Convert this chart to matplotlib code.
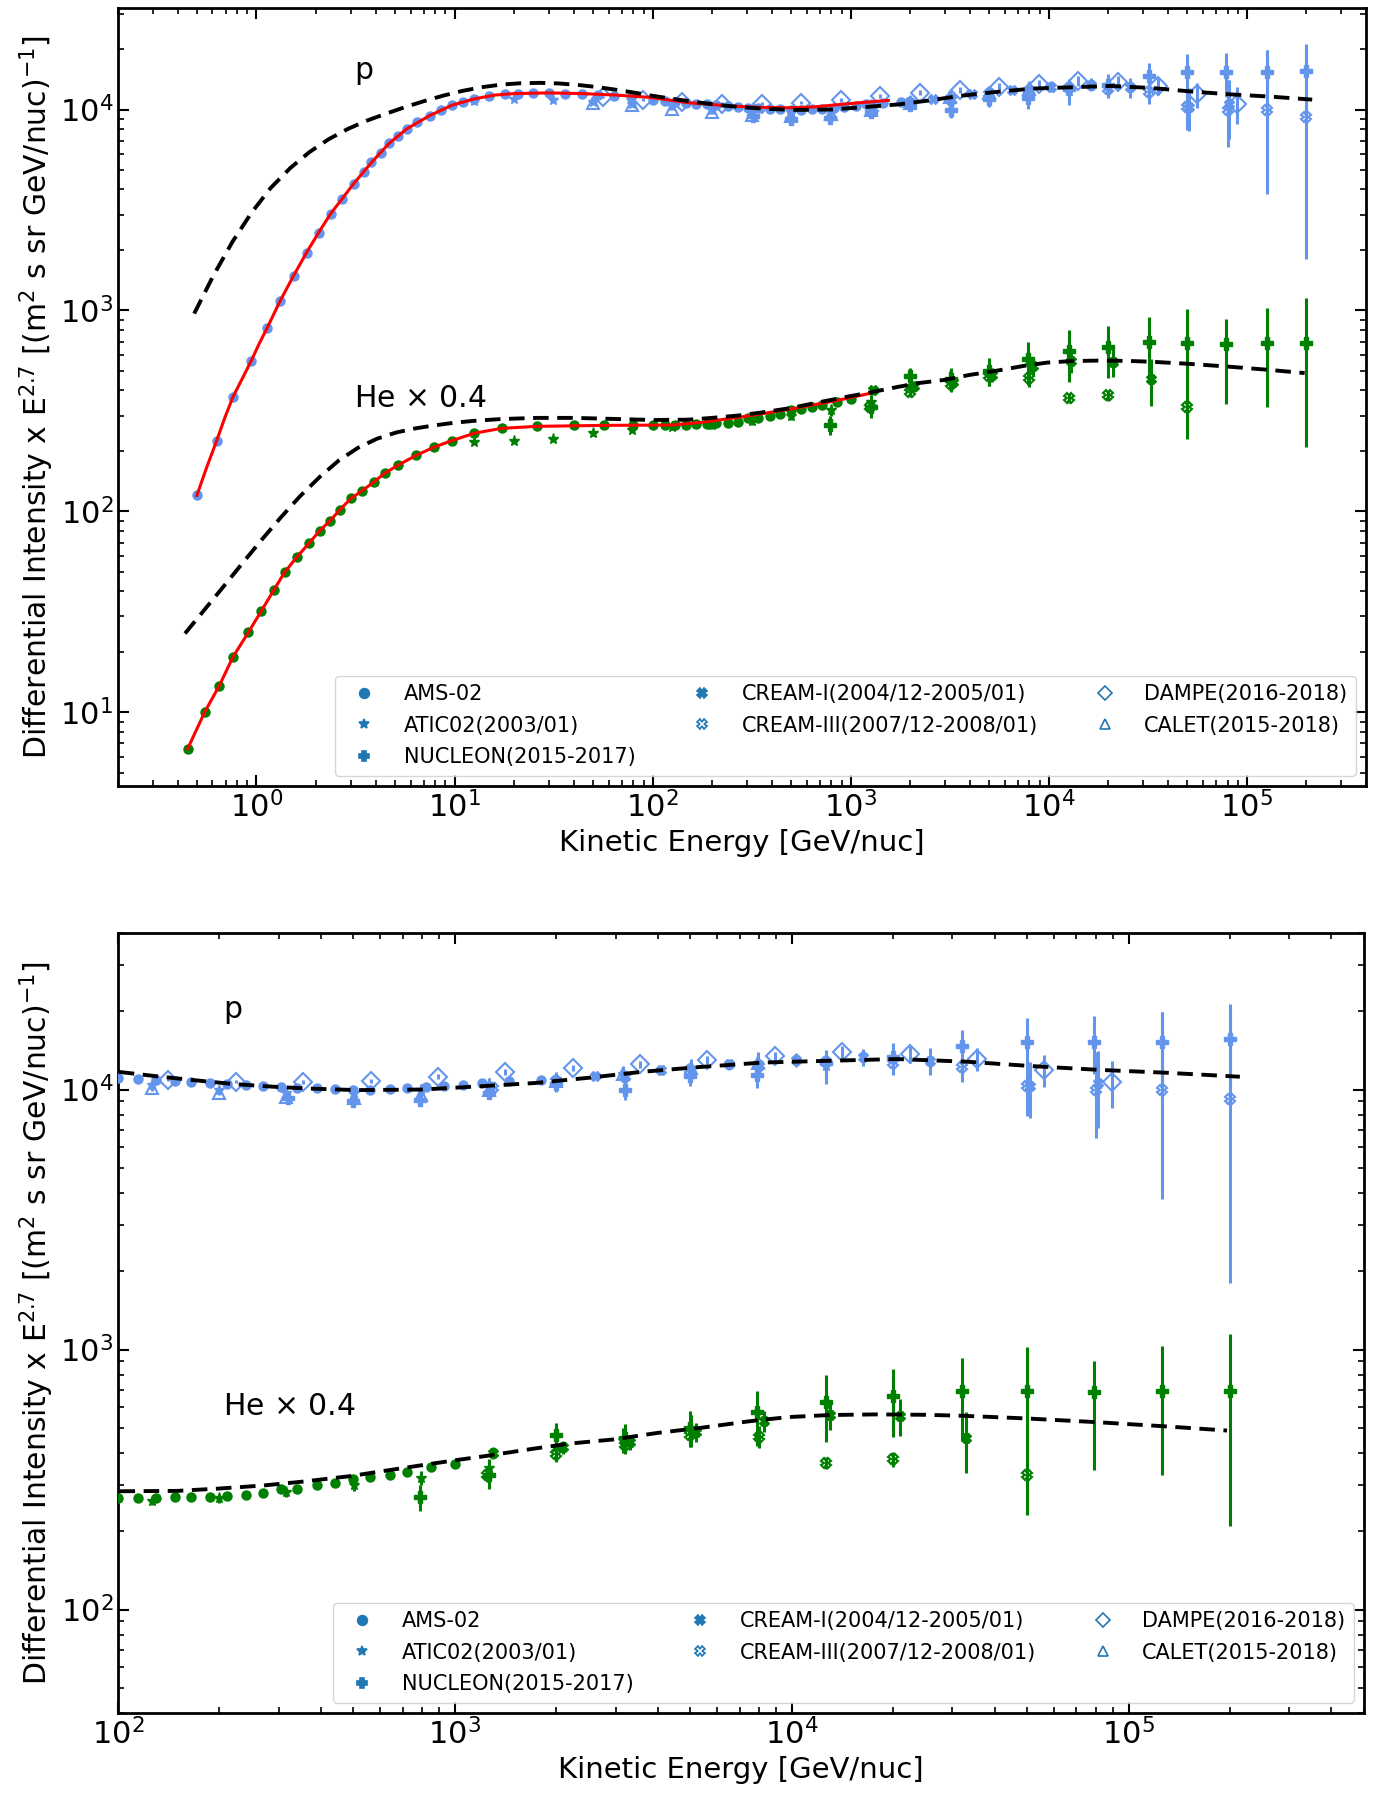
import numpy as np
import matplotlib
matplotlib.use('Agg')
import matplotlib.pyplot as plt
from matplotlib.lines import Line2D

# ---------------- proton data (E in GeV/nuc, flux x E^2.7) ----------------
p_ams_E = [0.50, 0.63, 0.76, 0.94, 1.13, 1.32, 1.54, 1.79, 2.06, 2.37, 2.71, 3.10, 3.50, 3.81,
           4.25, 4.67, 5.2, 5.77, 6.5, 7.5, 8.5, 9.7, 11.0, 12.6, 15.0, 18.0, 21.0, 25.0, 30.0,
           36.0, 44.0, 53.0, 64.0, 78.0, 100, 115, 130, 148, 165, 188, 210, 240, 270, 305,
           340, 390, 440, 500, 560, 640, 720, 820, 930, 1060, 1200, 1450, 1800]
p_ams_v = [120, 225, 370, 560, 815, 1120, 1490, 1940, 2440, 3030, 3600, 4280, 4900, 5450,
           6100, 6780, 7400, 8040, 8700, 9330, 9950, 10500, 10900, 11300, 11700, 11900, 12000,
           12050, 12050, 12000, 11950, 11850, 11700, 11500, 11100, 11000, 10900, 10800, 10700,
           10600, 10500, 10400, 10300, 10200, 10150, 10100, 10050, 10000, 10000, 10050, 10100,
           10200, 10300, 10450, 10600, 10750, 10900]

p_atic_E = [12.6, 20, 31.6, 50, 79, 126, 200, 316, 501, 794, 1260, 2000, 3160, 5010, 7940, 12600]
p_atic_v = [11000, 11300, 11200, 10900, 10700, 10400, 10000, 9700, 9700, 10000, 10500, 11000,
            11500, 12100, 12600, 12300]
p_atic_err = [300, 300, 300, 300, 300, 300, 300, 350, 400, 500, 600, 700, 800, 1000, 1300, 1800]

p_nuc_E = [320, 500, 790, 1260, 2000, 3200, 5000, 7900, 12600, 20000, 32000, 50000, 79000,
           126000, 200000]
p_nuc_v = [9300, 9000, 9100, 9700, 10500, 10000, 11300, 11400, 12700, 13300, 14700, 15300,
           15300, 15300, 15600]
p_nuc_err = [300, 300, 400, 500, 700, 900, 1000, 1300, 1500, 1800, 2300, 3500, 3800, 4500, 5700]

p_cream1_E = [2600, 4100, 6500, 10300, 16300, 25800, 51000, 81000]
p_cream1_v = [11300, 11900, 12500, 13000, 13300, 12900, 10300, 10600]
p_cream1_err = [400, 500, 600, 800, 1000, 1500, 2500, 3500]

p_cream3_E = [1300, 2000, 3200, 5000, 8000, 12600, 20000, 32000, 50000, 80000, 126000, 200000]
p_cream3_v = [10100, 10800, 11200, 11900, 12300, 12800, 12600, 12200, 10300, 10000, 10000, 9200]
p_cream3_elo = [300, 400, 500, 600, 800, 1000, 1200, 1500, 2400, 3500, 6200, 7400]
p_cream3_ehi = [300, 400, 500, 600, 800, 1000, 1200, 1500, 2600, 4000, 9800, 11000]

p_dampe_E = [56, 89, 141, 224, 355, 562, 891, 1410, 2240, 3550, 5620, 8910, 14100, 22400,
             35500, 56200, 89100]
p_dampe_v = [11500, 11200, 10900, 10700, 10700, 10800, 11200, 11700, 12100, 12500, 13000,
             13400, 13900, 13700, 13100, 11900, 10700]
p_dampe_err = [150, 150, 150, 150, 200, 200, 250, 300, 350, 400, 500, 600, 800, 1000, 1300,
               1700, 2200]

p_calet_E = [50, 79, 126, 200, 316, 501, 794, 1260, 2000, 3160, 5010, 7940]
p_calet_v = [10800, 10500, 10100, 9700, 9400, 9300, 9500, 10000, 10800, 11500, 12100, 12700]
p_calet_err = [200, 200, 200, 200, 200, 250, 300, 350, 450, 550, 700, 900]

# ---------------- helium data (x 0.4) ----------------
he_ams_E = [0.45, 0.547, 0.65, 0.76, 0.91, 1.06, 1.22, 1.39, 1.6, 1.84, 2.09, 2.36, 2.64, 3.0,
            3.43, 3.91, 4.45, 5.2, 6.4, 7.9, 9.7, 12.6, 17.3, 26, 40, 57, 80, 100, 115, 130,
            148, 165, 188, 210, 240, 270, 305, 340, 390, 440, 500, 560, 640, 720, 850, 1000]
he_ams_v = [6.6, 10, 13.6, 18.8, 25, 32, 40.4, 49.9, 59.3, 69.3, 80.3, 90, 102, 116, 127, 140,
            155, 170, 190, 209, 225, 245, 259, 265, 268, 268, 268, 268, 268, 269, 270, 271,
            272, 274, 276, 280, 290, 292, 300, 306, 318, 322, 330, 338, 352, 362]

he_atic_E = [12.6, 20, 31.6, 50, 79, 126, 200, 316, 501, 794, 1260, 2000, 3160, 5010]
he_atic_v = [221, 225, 230, 245, 255, 262, 268, 282, 300, 320, 350, 420, 450, 490]
he_atic_err = [5, 5, 6, 7, 8, 9, 10, 12, 15, 20, 30, 40, 50, 70]

he_nuc_E = [790, 1260, 2000, 3200, 5000, 7900, 12600, 20000, 32000, 50000, 79000, 126000, 200000]
he_nuc_v = [270, 330, 470, 455, 500, 575, 630, 660, 695, 690, 684, 690, 690]
he_nuc_elo = [30, 40, 50, 60, 80, 150, 190, 200, 250, 460, 340, 360, 480]
he_nuc_ehi = [30, 40, 50, 60, 80, 120, 170, 180, 230, 330, 220, 340, 460]

he_cream1_E = [1300, 2100, 3300, 5200, 8300, 13000, 21000, 33000]
he_cream1_v = [400, 420, 440, 480, 530, 560, 555, 455]
he_cream1_err = [20, 25, 30, 40, 50, 70, 90, 120]

he_cream3_E = [1250, 2000, 3200, 5000, 8000, 12600, 20000, 50000]
he_cream3_v = [330, 395, 430, 470, 462, 367, 378, 330]
he_cream3_err = [20, 25, 30, 40, 45, 20, 25, 40]

# ---------------- model curves ----------------
p_fit_E = [0.5, 0.56, 0.63, 0.69, 0.76, 0.85, 0.94, 1.03, 1.13, 1.32, 1.54, 1.79, 2.06, 2.37,
           2.71, 3.1, 3.81, 4.67, 5.77, 7.5, 9.7, 12.6, 16, 20, 30, 44, 65, 96, 153, 250, 350,
           490, 650, 800, 1100, 1550]
p_fit_v = [120, 165, 225, 290, 370, 460, 560, 680, 815, 1120, 1490, 1940, 2440, 3030, 3600,
           4280, 5450, 6780, 8040, 9330, 10500, 11300, 11800, 12000, 12100, 12000, 11800, 11500,
           10800, 10400, 10250, 10200, 10300, 10500, 10800, 11100]

he_fit_E = [0.45, 0.547, 0.65, 0.76, 0.91, 1.06, 1.22, 1.39, 1.6, 1.84, 2.09, 2.36, 2.64, 3.0,
            3.43, 3.91, 4.45, 5.2, 6.4, 7.9, 9.7, 12.6, 17.3, 26, 57.5, 125, 180, 300, 515,
            850, 1240]
he_fit_v = [6.6, 10, 13.6, 18.8, 25, 32, 40.4, 49.9, 59.3, 69.3, 80.3, 90, 102, 116, 127, 140,
            155, 170, 190, 209, 225, 245, 259, 265, 268, 269, 278, 298, 325, 356, 386]

p_mod_E = [0.485, 0.606, 0.758, 0.947, 1.18, 1.48, 1.85, 2.31, 2.89, 3.61, 4.52, 5.65, 7.06,
           8.82, 11.0, 13.8, 17.2, 21.5, 27, 33.6, 42, 52, 65, 80, 100, 130, 170, 220, 290,
           360, 510, 800, 1200, 1740, 2500, 3600, 5300, 8200, 12900, 20500, 33000, 52000,
           82000, 130000, 214000]
p_mod_v = [965, 1491, 2203, 3078, 4069, 5109, 6135, 7107, 7999, 8804, 9540, 10292, 11029,
           11740, 12386, 12922, 13302, 13511, 13571, 13480, 13250, 12950, 12550, 12150, 11700,
           11250, 10850, 10500, 10250, 10100, 9950, 10000, 10300, 10600, 11100, 11700, 12200,
           12700, 12900, 13100, 12800, 12300, 11900, 11600, 11200]

he_mod_E = [0.436, 0.545, 0.681, 0.852, 1.065, 1.33, 1.66, 2.08, 2.60, 3.25, 4.06, 5.08, 6.35,
            7.93, 9.9, 12.4, 17, 26, 40, 60, 100, 150, 200, 270, 350, 490, 700, 1000, 1210,
            1700, 2200, 2960, 4000, 5380, 7500, 9800, 13000, 17800, 25000, 32500, 50000,
            79600, 130000, 196000]
he_mod_v = [24.7, 32.3, 42.2, 55.4, 72.4, 93.5, 119, 148, 179, 207, 230, 247, 259, 268, 276,
            282, 288, 292, 292, 289, 285, 286, 292, 300, 310, 326, 350, 375, 388, 415, 435, 451,
            478, 500, 530, 550, 560, 563, 561, 556, 543, 526, 506, 488]

legend_labels = ['AMS-02', 'ATIC02(2003/01)', 'NUCLEON(2015-2017)',
                 'CREAM-I(2004/12-2005/01)', 'CREAM-III(2007/12-2008/01)',
                 'DAMPE(2016-2018)', 'CALET(2015-2018)']

P_COL = 'cornflowerblue'
HE_COL = 'green'


def draw_data(ax, fit=True):
    # proton
    kw = dict(color=P_COL, ecolor=P_COL, linestyle='none', elinewidth=2.2, capsize=0, zorder=3)
    ax.errorbar(p_ams_E, p_ams_v, fmt='o', ms=6.5, **kw)
    ax.errorbar(p_atic_E, p_atic_v, yerr=p_atic_err, fmt='*', ms=8, **kw)
    ax.errorbar(p_calet_E, p_calet_v, yerr=p_calet_err, fmt='^', ms=8, mfc='none', mew=1.5, **kw)
    ax.errorbar(p_dampe_E, p_dampe_v, yerr=p_dampe_err, fmt='D', ms=9, mfc='none', mew=1.5, **kw)
    ax.errorbar(p_cream1_E, p_cream1_v, yerr=p_cream1_err, fmt='X', ms=7, **kw)
    ax.errorbar(p_cream3_E, p_cream3_v, yerr=[p_cream3_elo, p_cream3_ehi], fmt='X', ms=7,
                mfc='none', mew=1.5, **kw)
    ax.errorbar(p_nuc_E, p_nuc_v, yerr=p_nuc_err, fmt='P', ms=8, **kw)
    # helium
    kw = dict(color=HE_COL, ecolor=HE_COL, linestyle='none', elinewidth=2.2, capsize=0, zorder=3)
    ax.errorbar(he_ams_E, he_ams_v, fmt='o', ms=6.5, **kw)
    ax.errorbar(he_atic_E, he_atic_v, yerr=he_atic_err, fmt='*', ms=8, **kw)
    ax.errorbar(he_cream1_E, he_cream1_v, yerr=he_cream1_err, fmt='X', ms=7, **kw)
    ax.errorbar(he_cream3_E, he_cream3_v, yerr=he_cream3_err, fmt='X', ms=7, mfc='none',
                mew=1.5, **kw)
    ax.errorbar(he_nuc_E, he_nuc_v, yerr=[he_nuc_elo, he_nuc_ehi], fmt='P', ms=8, **kw)

    if fit:
        ax.plot(p_fit_E, p_fit_v, color='red', lw=2.2, zorder=4)
        ax.plot(he_fit_E, he_fit_v, color='red', lw=2.2, zorder=4)
    ax.plot(p_mod_E, p_mod_v, color='black', ls='--', lw=2.8, dashes=(4, 2.2), zorder=5)
    ax.plot(he_mod_E, he_mod_v, color='black', ls='--', lw=2.8, dashes=(4, 2.2), zorder=5)


def style(ax):
    ax.set_xscale('log')
    ax.set_yscale('log')
    ax.tick_params(which='both', direction='in', top=True, right=True, labelsize=22)
    ax.tick_params(which='major', length=8, width=1.5)
    ax.tick_params(which='minor', length=4, width=1.2)
    for s in ax.spines.values():
        s.set_linewidth(2)
    ax.set_xlabel('Kinetic Energy [GeV/nuc]', fontsize=21)
    ax.set_ylabel(r'Differential Intensity x E$^{2.7}$ [(m$^2$ s sr GeV/nuc)$^{-1}$]',
                  fontsize=21.5)
    ax.yaxis.set_label_coords(-0.050, 0.5)
    markers = [('o', True), ('*', True), ('P', True), ('X', True), ('X', False),
               ('D', False), ('^', False)]
    handles = []
    for m, filled in markers:
        handles.append(Line2D([], [], marker=m, color='C0', linestyle='none', markersize=7,
                              mfc='C0' if filled else 'none', mew=1.2))
    ax.legend(handles, legend_labels, loc='lower right', ncol=3, fontsize=15,
              borderaxespad=0.5, handletextpad=0.9, columnspacing=2.2, labelspacing=0.55)


fig = plt.figure(figsize=(13.74, 18), dpi=100)
ax1 = fig.add_axes([118 / 1374, 1 - 786 / 1800, 1248 / 1374, 778 / 1800])
ax2 = fig.add_axes([118 / 1374, 1 - 1713 / 1800, 1246 / 1374, 780 / 1800])

draw_data(ax1, fit=True)
style(ax1)
ax1.set_xlim(0.2, 4e5)
ax1.set_ylim(4.3, 3.2e4)
ax1.text(3.1, 15600, 'p', fontsize=21.5, va='center', ha='left')
ax1.text(3.1, 363, 'He $\\times$ 0.4', fontsize=21.5, va='center', ha='left')

draw_data(ax2, fit=False)
style(ax2)
ax2.set_xlim(100, 5e5)
ax2.set_ylim(40, 4e4)
ax2.text(205, 20300, 'p', fontsize=21.5, va='center', ha='left')
ax2.text(205, 604, 'He $\\times$ 0.4', fontsize=21.5, va='center', ha='left')

fig.savefig('out.png', dpi=100)
